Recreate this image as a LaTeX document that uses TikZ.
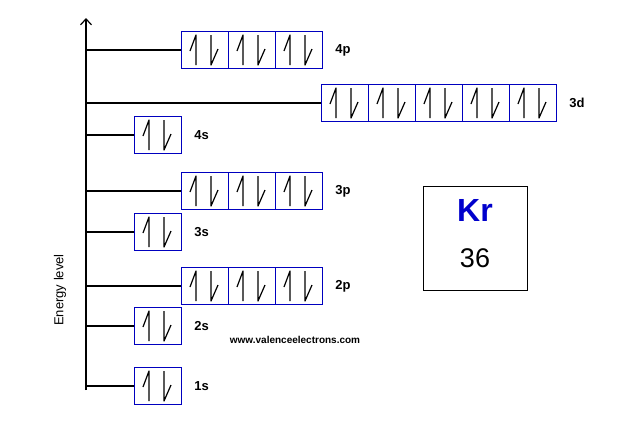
\documentclass[tikz,border=0pt]{standalone}
\usepackage{fontspec}
\setmainfont{Liberation Sans}
\usetikzlibrary{positioning,arrows.meta}
\tikzset{
  orbbox/.style={draw=blue!75!black, thick, minimum width=47, minimum height=37, inner sep=0pt},
  lvl/.style={line width=1.2pt},
  lab/.style={font=\fontsize{13}{13}\selectfont\bfseries, anchor=west}
}
\newcommand{\spins}[1]{%
  \draw[line width=1.2pt, line join=round, shift={(#1.center)}] (-15,1) -- (-9,-15) -- (-9,15);
  \draw[line width=1.2pt, line join=round, shift={(#1.center)}] (6,-15) -- (6,15) -- (13,-1);}
\newcommand{\orbital}[5]{% name, x of first center, y, count, label
  \foreach \k in {1,...,#4}{
    \node[orbbox] (#1\k) at ({#2+47*(\k-1)},#3) {};
    \spins{#1\k}
  }
  \node[lab, right=9 of #1#4] (#1lab) {#5};
  \coordinate (#1ax) at (86,#3);
  \draw[lvl] (#1ax) -- (#11.west);}
\begin{document}
\begin{tikzpicture}[x=1pt,y=-1pt]
  \useasboundingbox (0,0) rectangle (623,437);
  \coordinate (axbot) at (86,390);
  \coordinate (axtop) at (86,18);
  \draw[line width=1.2pt,-{Straight Barb[length=6pt,width=11pt]}] (axbot) -- (axtop);
  \node[rotate=90, font=\fontsize{13}{13}\selectfont] (elabel) at (60,290) {Energy level};
  \orbital{fourp}{205}{50}{3}{4p}
  \orbital{threed}{345}{103}{5}{3d}
  \orbital{fours}{158}{135}{1}{4s}
  \orbital{threep}{205}{191}{3}{3p}
  \orbital{threes}{158}{232}{1}{3s}
  \orbital{twop}{205}{286}{3}{2p}
  \orbital{twos}{158}{326}{1}{2s}
  \orbital{ones}{158}{386}{1}{1s}
  \node[draw, minimum width=104, minimum height=104] (elem) at (475,238) {};
  \node[text=blue!80!black, font=\fontsize{32}{32}\selectfont\bfseries] (sym) at (475,210) {Kr};
  \node[font=\fontsize{27}{27}\selectfont] (num) at (475,258) {36};
  \node[font=\fontsize{10}{10}\selectfont\bfseries] (web) at (295,340) {www.valenceelectrons.com};
\end{tikzpicture}
\end{document}
